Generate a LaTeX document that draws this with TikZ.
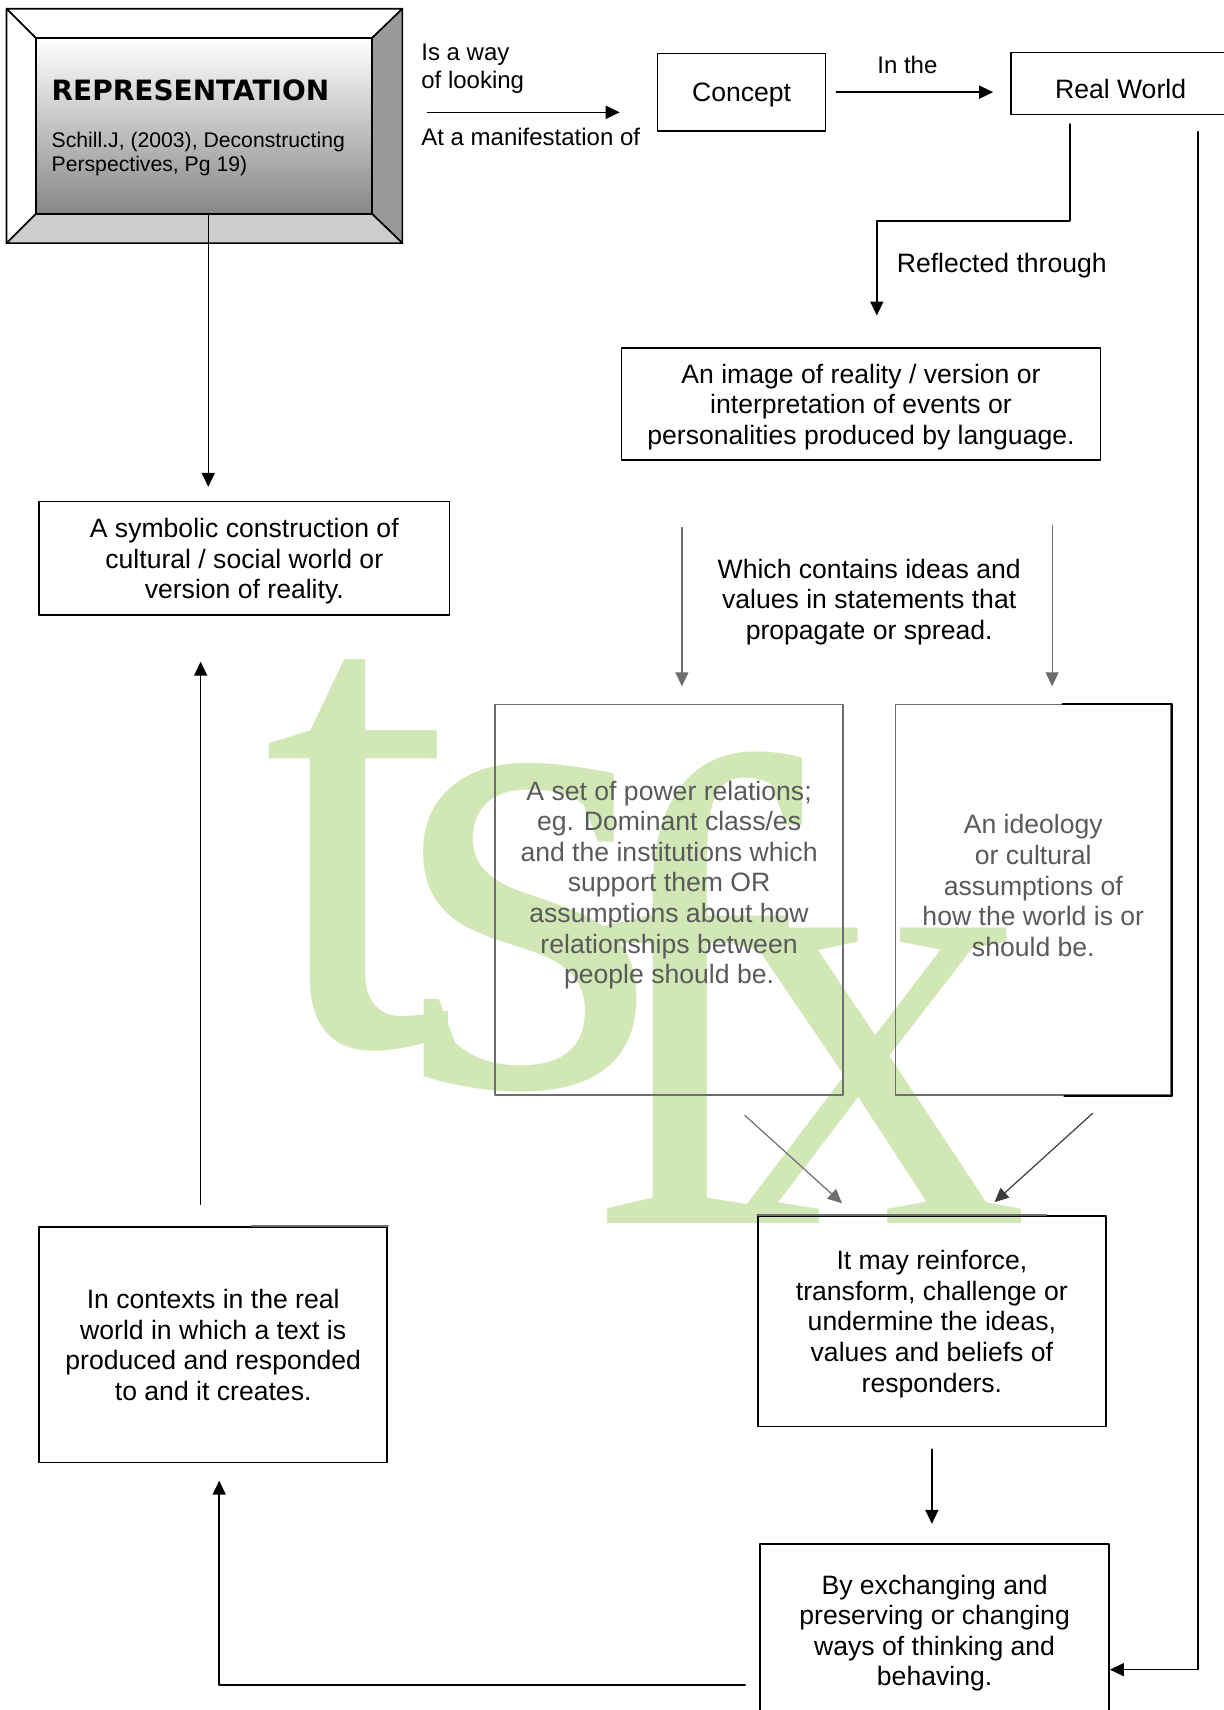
\documentclass[tikz,border=0pt]{standalone}
\usepackage{fontspec}
\setmainfont{Liberation Sans}
\newfontfamily\titlefont{DejaVu Sans}
\newfontfamily\markfont{Liberation Serif}
\usetikzlibrary{arrows.meta,calc}
\definecolor{markgreen}{RGB}{209,231,181}
\definecolor{linegray}{RGB}{110,110,110}
\definecolor{darklink}{RGB}{60,60,60}
\definecolor{textgray}{RGB}{90,90,90}
\definecolor{bevelside}{RGB}{154,154,154}
\definecolor{bevelfoot}{RGB}{205,205,205}
\definecolor{shadegray}{RGB}{135,135,135}
\newcommand{\px}{0.5455pt}
\newcommand{\boxsize}{\fontsize{13.3}{15.3}\selectfont}
\newcommand{\lblsize}{\fontsize{12}{14.2}\selectfont}
\newcommand{\srcsize}{\fontsize{10.6}{12}\selectfont}
\newcommand{\marksize}[1]{\markfont\fontsize{#1}{#1}\selectfont}

\begin{document}
\begin{tikzpicture}[font=\boxsize, line join=round, line cap=round, >={Triangle[length=7pt,width=6.5pt]}, x=0.5455pt, y=-0.5455pt,
  box/.style 2 args={draw, line width=0.8pt, inner sep=0pt, align=center, text depth=0pt, minimum width=#1*\px, minimum height=#2*\px},
  graybox/.style 2 args={box={#1}{#2}, draw=linegray},
  lbl/.style={inner sep=0pt, font=\lblsize},
  link/.style={->, line width=0.8pt},
  graylink/.style={->, draw=linegray, line width=0.6pt}]
	\useasboundingbox (0,0) rectangle (1122,1568);
	% watermark
	\begin{scope}[every node/.style={inner sep=0pt, anchor=base west, text=markgreen}]
		\node[font=\marksize{342}] (mark t) at (240,958) {t};
		\node[font=\marksize{342}] (mark s) at (362,995) {s};
		\node[font=\marksize{335}] (mark f) at (531,1122) {f};
		\node[font=\marksize{322}] (mark x) at (648,1122) {x};
	\end{scope}
	% bevelled title panel
	\filldraw[fill=white, line width=0.8pt] (6,8) -- (369,8) -- (341,35) -- (33,35) -- cycle;
	\filldraw[fill=white, line width=0.8pt] (6,8) -- (33,35) -- (33,196) -- (6,223) -- cycle;
	\filldraw[fill=bevelside, line width=0.8pt] (369,8) -- (369,223) -- (341,196) -- (341,35) -- cycle;
	\filldraw[fill=bevelfoot, line width=0.8pt] (6,223) -- (369,223) -- (341,196) -- (33,196) -- cycle;
	\node[box={308}{161}, line width=1pt, top color=white, bottom color=shadegray] (rep) at (187,115.5) {};
	\node[anchor=base west, inner sep=0pt, font=\titlefont\bfseries\fontsize{14}{16}\selectfont] (rep title) at (47,92.5) {REPRESENTATION};
	\node[anchor=north west, inner sep=0pt, align=left, font=\srcsize] (rep source) at (47,121) {Schill.J, (2003), Deconstructing\\Perspectives, Pg 19)};
	% boxes
	\node[box={376}{104}] (symbolic) at (224,512) {A symbolic construction of\\cultural / social world or\\version of reality.};
	\node[box={154}{71}] (concept) at (680,84.5) {Concept};
	\node[box={201}{57}, text height=15pt] (realworld) at (1027.5,76.5) {Real World};
	\node[box={439}{103}] (image) at (789.5,370.5) {An image of reality / version or\\interpretation of events or\\personalities produced by language.};
	\node[graybox={319}{358}] (power) at (613.5,825) {};
	\node[graybox={253}{358}] (ideology) at (947.5,825) {};
	\draw[line width=0.8pt] ($(ideology.north west)+(154,0)$) -| (ideology.south east) -- ++(-99,0);
	\node[align=center, inner sep=0pt, text=textgray] (power text) at ($(power.center)+(0,-13.5)$) {A set of power relations;\\eg. Dominant class/es\\and the institutions which\\support them OR\\assumptions about how\\relationships between\\people should be.};
	\node[align=center, inner sep=0pt, text=textgray] (ideology text) at ($(ideology.center)+(0,-13)$) {An ideology\\or cultural\\assumptions of\\how the world is or\\should be.};
	\node[box={319}{193}] (reinforce) at (854.5,1211.5) {It may reinforce,\\transform, challenge or\\undermine the ideas,\\values and beliefs of\\responders.};
	\draw[linegray, line width=0.8pt] (reinforce.north west) -- ++(265,0);
	\node[box={320}{158}] (exchanging) at (857,1495) {By exchanging and\\preserving or changing\\ways of thinking and\\behaving.};
	\node[box={319}{216}] (contexts) at (195.5,1233) {In contexts in the real\\world in which a text is\\produced and responded\\to and it creates.};
	\draw[linegray, line width=0.8pt] (contexts.north east) -- ++(-125,0);
	% labels
	\node[lbl, anchor=north west, align=left] (way label) at (386,40) {Is a way\\of looking};
	\node[lbl, anchor=base west] (manifest label) at (386,133) {At a manifestation of};
	\node[lbl, anchor=base] (inthe label) at (832,67) {In the};
	\node[anchor=base west, inner sep=0pt] (reflect label) at (822,250) {Reflected through};
	\node[align=center, inner sep=0pt] (contains label) at (797,552) {Which contains ideas and\\values in statements that\\propagate or spread.};
	% connectors
	\coordinate (rep foot) at ($(rep.south)+(4,0)$);
	\draw[link, shorten >=7pt] (rep foot) -- (rep foot |- symbolic.north);
	\draw[link] ($(rep.east)+(50,-12.5)$) -- ($(concept.west)+(-34,18.5)$);
	\draw[link, shorten <=5pt, shorten >=8.5pt] (concept.east) -- (concept.east -| realworld.west);
	\draw[link, shorten >=15.8pt] ($(realworld.south)+(-46.5,8)$) -- ++(0,89) -| ($(image.north)+(14.5,0)$);
	\draw[link] ($(realworld.south east)+(-30,15)$) |- ($(exchanging.east)+(0,36)$);
	\coordinate (left drop) at ($(image.south west)+(56,61)$);
	\coordinate (right drop) at ($(image.south east)+(-45,59)$);
	\draw[graylink, shorten >=8.7pt] (left drop) -- (left drop |- power.north);
	\draw[graylink, shorten >=8.7pt] (right drop) -- (right drop |- ideology.north);
	\draw[graylink] ($(power.south)+(69.5,18)$) -- ($(reinforce.north)+(-82.5,-11)$);
	\draw[graylink, draw=darklink] ($(ideology.south)+(54.5,16)$) -- ($(reinforce.north)+(57.5,-12)$);
	\draw[link, shorten <=11pt, shorten >=9.8pt] (reinforce.south) -- (reinforce.south |- exchanging.north);
	\draw[link, shorten >=8.7pt] ($(exchanging.west)+(-13,50)$) -| ($(contexts.south)+(5.5,0)$);
	\coordinate (contexts up) at ($(contexts.north)+(-11.5,-20)$);
	\draw[link, shorten >=22.9pt] (contexts up) -- (contexts up |- symbolic.south);
\end{tikzpicture}
\end{document}
